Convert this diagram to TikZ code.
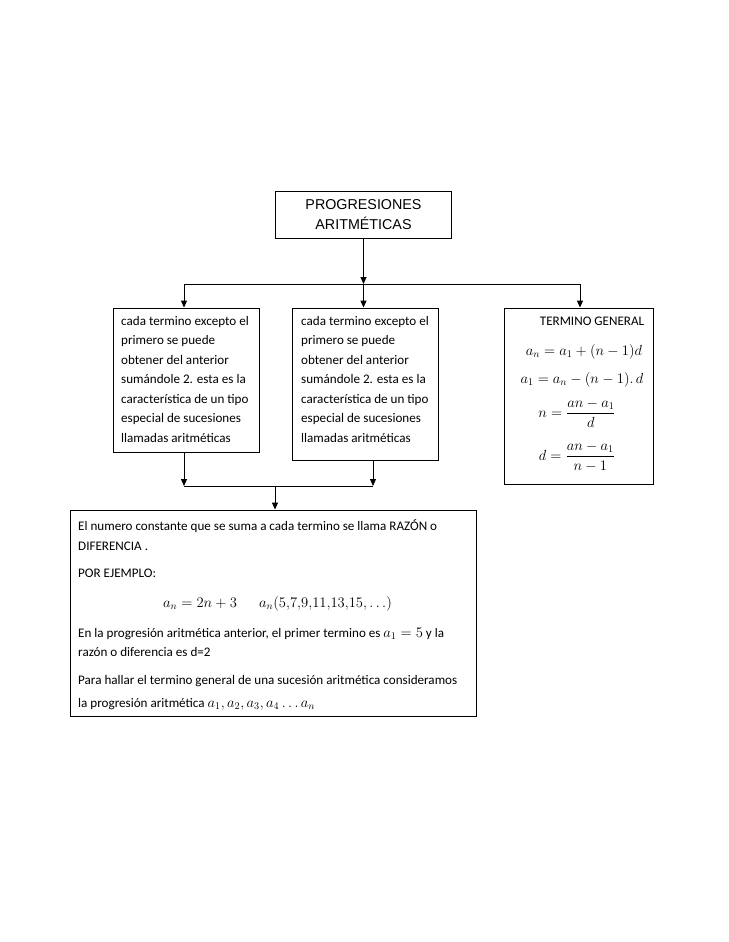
\RequirePackage{fix-cm}
\documentclass[tikz,border=0pt]{standalone}
\usepackage{amsmath}
\usepackage{fontspec}
\setmainfont{Carlito}
\newfontfamily\arialfont{Liberation Sans}
\usetikzlibrary{arrows.meta}
\newcommand\mth[1]{{\fontsize{14.6}{16}\selectfont$#1$}}
\tikzset{
  frame/.style={draw, line width=0.9pt, inner sep=0pt},
  body/.style={inner sep=0pt, align=left, font=\fontsize{13.1}{19.5}\selectfont},
  line/.style={inner sep=0pt, anchor=base west, font=\fontsize{13.1}{16}\selectfont},
  eq/.style={inner sep=0pt, anchor=base, font=\fontsize{13.1}{16}\selectfont},
  conn/.style={line width=1pt},
  arr/.style={conn, -{Triangle[length=7pt,width=6pt]}},
}
\begin{document}
\begin{tikzpicture}[x=1pt,y=-1pt]
\useasboundingbox (0,0) rectangle (728,942);

% top box
\node[frame, minimum width=176pt, minimum height=47pt, align=center,
      font=\arialfont\fontsize{14.3}{20}\selectfont] (top) at (363.5,214.5)
      {PROGRESIONES\\ARITMÉTICAS};

% three boxes
\node[frame, minimum width=146pt, minimum height=144pt] (lbox) at (186,380) {};
\node[body, anchor=north west] (ltext) at (121,316)
 {cada termino excepto el\\primero se puede\\obtener del anterior\\sumándole 2. esta es la\\característica de un tipo\\especial de sucesiones\\llamadas aritméticas};

\node[frame, minimum width=146pt, minimum height=152pt] (mbox) at (365,384) {};
\node[body, anchor=north west] (mtext) at (301,316)
 {cada termino excepto el\\primero se puede\\obtener del anterior\\sumándole 2. esta es la\\característica de un tipo\\especial de sucesiones\\llamadas aritméticas};

\node[frame, minimum width=149pt, minimum height=176pt] (rbox) at (578.5,396) {};
\node[eq] (rt) at (592,325) {TERMINO GENERAL};
\node[eq] (r1) at (584,355) {\mth{a_n = a_1 + (n-1)d}};
\node[eq] (r2) at (582,383) {\mth{a_1 = a_n - (n-1).\,d}};
\node[eq] (r3) at (577,417) {\mth{n = \dfrac{an-a_1}{d}}};
\node[eq] (r4) at (577,460) {\mth{d = \dfrac{an-a_1}{n-1}}};

% bottom box
\node[frame, minimum width=406pt, minimum height=206pt] (bbox) at (273,613) {};
\node[line] (b1) at (78,530) {El numero constante que se suma a cada termino se llama RAZÓN o};
\node[line] (b2) at (78,550) {DIFERENCIA .};
\node[line] (b3) at (78,577) {POR EJEMPLO:};
\node[line] (b4a) at (163,607) {\mth{a_n = 2n+3}};
\node[line] (b4b) at (259,607) {\mth{a_n(5{,}7{,}9{,}11{,}13{,}15{,}\ldots)}};
\node[line] (b5) at (78,637) {En la progresión aritmética anterior, el primer termino es \mth{a_1 = 5} y la};
\node[line] (b6) at (78,656) {razón o diferencia es d=2};
\node[line] (b7) at (78,684) {Para hallar el termino general de una sucesión aritmética consideramos};
\node[line] (b8) at (78,707) {la progresión aritmética \mth{a_1, a_2, a_3, a_4 \ldots a_n}};

% connectors
\coordinate (ha) at (0,284);
\coordinate (ja) at (top.south |- ha);
\coordinate (jl) at (184,284);
\coordinate (jr) at (580,284);
\draw[conn] (jl) -- (jr);
\draw[arr] (top.south) -- (ja);
\draw[arr] (jl) -- (jl |- lbox.north);
\draw[arr] (ja) -- (ja |- mbox.north);
\draw[arr] (jr) -- (jr |- rbox.north);

\coordinate (kl) at (184,486);
\coordinate (kr) at (373,486);
\coordinate (kc) at (275,486);
\draw[arr] (kl |- lbox.south) -- (kl);
\draw[arr] (kr |- mbox.south) -- (kr);
\draw[conn] (kl) -- (kr);
\draw[arr] (kc) -- (kc |- bbox.north);
\end{tikzpicture}
\end{document}
